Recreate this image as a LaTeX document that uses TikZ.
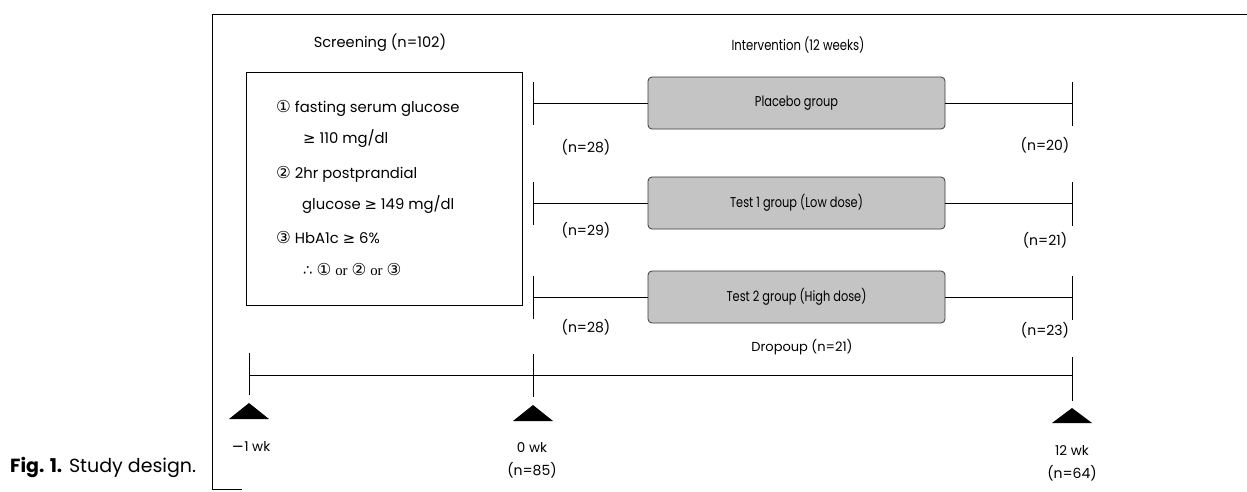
\documentclass[tikz,border=0pt]{standalone}
\usepackage{fontspec}
\setmainfont{Poppins}
\newfontfamily\narrowfont[FakeStretch=0.8]{Poppins}
\newfontfamily\symfont{DejaVu Sans}
\newfontfamily\orfont{Liberation Serif}
\usepackage{tikz}
\usetikzlibrary{positioning}
\usepackage{xcolor}
\definecolor{ArmFill}{HTML}{C4C4C4}
\definecolor{ArmEdge}{HTML}{3A3A3A}
\newcommand{\dsym}[1]{{\symfont #1}}
\newcommand{\dnum}[1]{{\symfont\fontsize{16.5}{16}\selectfont #1}}

\begin{document}
\begin{tikzpicture}[
  x=1pt,y=-1pt,font=\fontsize{12}{14}\selectfont,
  frame/.style={draw=black,line width=1pt},
  critbox/.style={draw=black,line width=1pt,minimum width=276pt,
    minimum height=233pt,inner sep=0pt},
  crit/.style={anchor=west,inner sep=0pt,font=\fontsize{14.8}{16}\selectfont},
  arm/.style={draw=ArmEdge,fill=ArmFill,rounded corners=4pt,line width=0.8pt,
    minimum width=297pt,minimum height=52pt,inner sep=0pt,
    font=\narrowfont\fontsize{14.2}{15}\selectfont},
  link/.style={draw=black,line width=1pt},
  bar/.style={draw=black,line width=1pt},
  marker/.style={fill=black},
  count/.style={inner sep=0pt,font=\fontsize{14}{15}\selectfont},
  week/.style={inner sep=0pt,font=\fontsize{13.5}{15}\selectfont},
  heading/.style={inner sep=0pt,font=\fontsize{14.6}{16}\selectfont},
  caption/.style={anchor=west,inner sep=0pt,font=\fontsize{19}{21}\selectfont}
]
\useasboundingbox (0,0) rectangle (1247,491);

% Open frame round the whole design.
\draw[frame] (1247,14) -- (212,14) -- (212,489) -- (242,489);
\node[caption] (fig) at (10,467) {{\bfseries Fig. 1.} Study design.};

% Screening column.
\node[heading] (screen) at (380,43) {Screening (n=102)};
\node[critbox] (criteria) at (384,188.5) {};
\node[crit] (c1) at (276,108) {\dnum{①} fasting serum glucose};
\node[crit] (c1b) at (303,139) {\dsym{≥} 110 mg/dl};
\node[crit] (c2) at (276,174) {\dnum{②} 2hr postprandial};
\node[crit] (c2b) at (302,205) {glucose \dsym{≥} 149 mg/dl};
\node[crit] (c3) at (276,237) {\dnum{③} HbA1c \dsym{≥} 6\%};
\node[crit] (c4) at (303,269)
  {\dsym{∴} \dnum{①} {\orfont or} \dnum{②} {\orfont or} \dnum{③}};

% Intervention arms, from randomisation (0 wk) to 12 wk.
\node[heading,font=\narrowfont\fontsize{14.6}{16}\selectfont] (interv)
  at (798,45) {Intervention (12 weeks)};
\node[arm] (placebo) at (796.5,103) {Placebo group};
\node[arm] (low) at (796.5,203) {Test 1 group (Low dose)};
\node[arm] (high) at (796.5,297) {Test 2 group (High dose)};

\coordinate (s1) at (533,103);
\coordinate (s2) at (533,203);
\coordinate (s3) at (533,297);
\coordinate (e1) at (1072,103);
\coordinate (e2) at (1072,203);
\coordinate (e3) at (1072,297);

\draw[bar] (s1) ++(0,-21) -- ++(0,43);
\draw[bar] (s2) ++(0,-21) -- ++(0,43);
\draw[bar] (s3) ++(0,-21) -- ++(0,43);
\draw[bar] (e1) ++(0,-21) -- ++(0,44);
\draw[bar] (e2) ++(0,-21) -- ++(0,44);
\draw[bar] (e3) ++(0,-21) -- ++(0,44);

\draw[link] (s1) -- (placebo);
\draw[link] (placebo) -- (e1);
\draw[link] (s2) -- (low);
\draw[link] (low) -- (e2);
\draw[link] (s3) -- (high);
\draw[link] (high) -- (e3);

\node[count] (n1) at (586,147) {(n=28)};
\node[count] (n2) at (586,230) {(n=29)};
\node[count] (n3) at (586,327) {(n=28)};
\node[count] (m1) at (1045,145) {(n=20)};
\node[count] (m2) at (1045,240) {(n=21)};
\node[count] (m3) at (1045,330) {(n=23)};
\node[heading,font=\fontsize{13}{14}\selectfont] (drop) at (802,347)
  {Dropoup (n=21)};

% Time line with week markers.
\coordinate (t0) at (249,375);
\coordinate (t1) at (533,375);
\coordinate (t2) at (1072,375);
\draw[link] (t0) -- (t2);
\draw[bar] (t0) ++(0,-22) -- ++(0,42);
\draw[bar] (t1) ++(0,-21) -- ++(0,43);
\draw[bar] (t2) ++(0,-18) -- ++(0,44);
\fill[marker] (t0) ++(0,28) -- ++(20,16) -- ++(-40,0) -- cycle;
\fill[marker] (t1) ++(0,30) -- ++(20,16) -- ++(-40,0) -- cycle;
\fill[marker] (t2) ++(0,33) -- ++(20,15) -- ++(-40,0) -- cycle;

\node[week] (w0) at (251,446) {{\symfont\fontsize{15}{15}\selectfont −}1 wk};
\node[week] (w1) at (532,447) {0 wk};
\node[count] (w1n) at (532,470) {(n=85)};
\node[week] (w2) at (1072,450) {12 wk};
\node[count] (w2n) at (1072,473) {(n=64)};

\end{tikzpicture}
\end{document}
